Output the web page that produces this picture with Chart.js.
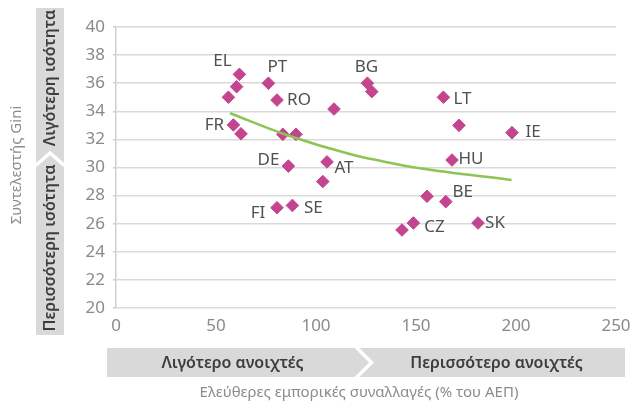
<!DOCTYPE html>
<html>
<head>
<meta charset="utf-8">
<script src="https://cdn.jsdelivr.net/npm/chart.js@4/dist/chart.umd.min.js"></script>
<style>
  html, body { margin: 0; padding: 0; background: #ffffff; }
  #wrap { position: relative; width: 632px; height: 401px; }
</style>
</head>
<body>
<div id="wrap"><canvas id="c" width="632" height="401"></canvas></div>
<script>
// ---- data ----
const countries = ['EL','','','PT','RO','','BG','','FR','','','','DE','AT','','FI','SE','LT','','IE','HU','','BE','CZ','','SK'];
const openness  = [61.7,60.3,56.2,76.2,80.5,109,125.7,127.9,58.7,62.5,83.4,90,86.2,105.5,103.4,80.5,88.2,163.7,171.5,198,168,155.5,164.9,148.7,143,181];
const gini      = [36.63,35.75,35.0,36.0,34.8,34.16,36.0,35.4,33.03,32.4,32.36,32.36,30.1,30.4,29.0,27.14,27.3,35.0,33.0,32.48,30.53,27.95,27.57,26.05,25.55,26.05];
const trendX    = [57,85.3,118.7,132,152,197.8];
const trendY    = [33.86,32.31,30.89,30.48,29.94,29.11];
const xTicks    = [0,50,100,150,200,250];
const yTicks    = [20,22,24,26,28,30,32,34,36,38,40];

const yTitle = 'Συντελεστής Gini';
const xTitle = 'Ελεύθερες εμπορικές συναλλαγές (% του ΑΕΠ)';
const yBandTop = 'Λιγότερη ισότητα';
const yBandBottom = 'Περισσότερη ισότητα';
const xBandLeft = 'Λιγότερο ανοιχτές';
const xBandRight = 'Περισσότερο ανοιχτές';

// label placement (pixel offsets from the marker), styling only
const labelOffsets = {
  EL:[-17,-13], PT:[9,-16], RO:[22,0], BG:[-1,-16], FR:[-19,0], DE:[-20,-6],
  AT:[17,6], FI:[-19,5], SE:[21,3], LT:[19,2], IE:[21,0], HU:[19,-1],
  BE:[17,-9], CZ:[21,4], SK:[17,0]
};

const FONT = "'Noto Sans', 'DejaVu Sans', sans-serif";

const points = openness.map((v, i) => ({x: v, y: gini[i]}));
const trend = trendX.map((v, i) => ({x: v, y: trendY[i]}));

const decor = {
  id: 'decor',
  afterDraw(chart) {
    const ctx = chart.ctx;
    ctx.save();
    // vertical band
    ctx.fillStyle = '#d9d9d9';
    ctx.fillRect(36, 8, 28, 327);
    ctx.strokeStyle = '#ffffff';
    ctx.lineWidth = 3.5;
    ctx.lineJoin = 'miter';
    ctx.beginPath();
    ctx.moveTo(35, 166); ctx.lineTo(50, 153); ctx.lineTo(65, 166);
    ctx.stroke();
    // horizontal band
    ctx.fillRect(107, 348, 518, 29);
    ctx.beginPath();
    ctx.moveTo(356, 347); ctx.lineTo(371.5, 362.5); ctx.lineTo(356, 378);
    ctx.stroke();

    ctx.fillStyle = '#3d3d3d';
    ctx.font = "600 16px " + FONT;
    ctx.textAlign = 'center';
    ctx.textBaseline = 'middle';
    ctx.fillText(xBandLeft, 232.5, 363);
    ctx.fillText(xBandRight, 496.5, 363);

    ctx.save();
    ctx.translate(50, 78);
    ctx.rotate(-Math.PI / 2);
    ctx.fillText(yBandTop, 0, 0);
    ctx.restore();
    ctx.save();
    ctx.translate(50, 248);
    ctx.rotate(-Math.PI / 2);
    ctx.fillText(yBandBottom, 0, 0);
    ctx.restore();

    // axis titles
    ctx.fillStyle = '#8c8c8c';
    ctx.font = "15px " + FONT;
    ctx.fillText(xTitle, 359, 393);
    ctx.save();
    ctx.translate(17, 165);
    ctx.rotate(-Math.PI / 2);
    ctx.fillText(yTitle, 0, 0);
    ctx.restore();
    ctx.restore();
  },
  afterDatasetsDraw(chart) {
    const ctx = chart.ctx;
    const meta = chart.getDatasetMeta(1);
    ctx.save();
    ctx.fillStyle = '#505050';
    ctx.font = "17px " + FONT;
    ctx.textAlign = 'center';
    ctx.textBaseline = 'middle';
    meta.data.forEach((el, i) => {
      const name = countries[i];
      if (!name) return;
      const off = labelOffsets[name] || [18, 0];
      ctx.fillText(name, el.x + off[0], el.y + off[1]);
    });
    ctx.restore();
  }
};

new Chart(document.getElementById('c'), {
  type: 'scatter',
  data: {
    datasets: [
      {
        type: 'line',
        data: trend,
        borderColor: '#8dc452',
        borderWidth: 2.5,
        pointRadius: 0,
        fill: false,
        tension: 0.4,
        cubicInterpolationMode: 'monotone',
        order: 0
      },
      {
        data: points,
        pointStyle: 'rectRot',
        pointRadius: 6.3,
        pointHoverRadius: 6.3,
        backgroundColor: '#c4458f',
        borderColor: '#c4458f',
        borderWidth: 1,
        order: 1
      }
    ]
  },
  options: {
    responsive: false,
    animation: false,
    devicePixelRatio: 1,
    layout: { padding: { left: 0, top: 27, right: 16, bottom: 0 } },
    plugins: { legend: { display: false }, tooltip: { enabled: false } },
    scales: {
      x: {
        type: 'linear',
        min: 0, max: 250,
        afterBuildTicks(s) { s.ticks = xTicks.map(v => ({value: v})); },
        afterFit(s) { s.height = 93; s.paddingRight = 0; },
        grid: { display: false, drawTicks: false },
        border: { display: false },
        ticks: { color: '#8a8a8a', font: { family: FONT, size: 17 }, padding: 8 }
      },
      y: {
        type: 'linear',
        min: 20, max: 40,
        afterBuildTicks(s) { s.ticks = yTicks.map(v => ({value: v})); },
        afterFit(s) { s.width = 116; },
        grid: { color: '#d9d9d9', lineWidth: 1.5, tickLength: 3, tickColor: '#d0d0d0' },
        border: { display: true, color: '#d0d0d0', width: 1.5 },
        ticks: { color: '#8a8a8a', font: { family: FONT, size: 17 }, padding: 8 }
      }
    }
  },
  plugins: [decor]
});
</script>
</body>
</html>
